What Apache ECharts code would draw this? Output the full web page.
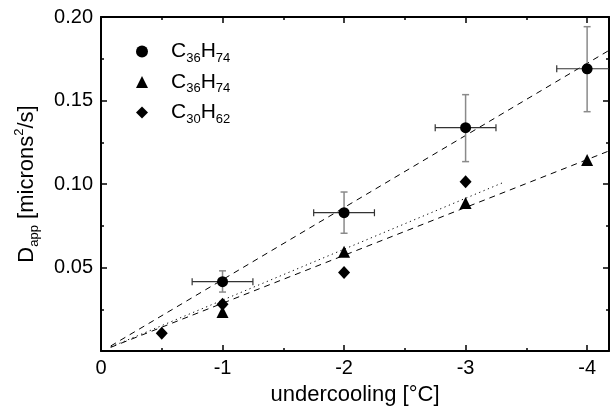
<!DOCTYPE html>
<html>
<head>
<meta charset="utf-8">
<script src="https://cdn.jsdelivr.net/npm/echarts@6/dist/echarts.min.js"></script>
<style>
  html, body { margin: 0; padding: 0; background: #fff; }
  #chart { width: 612px; height: 416px; }
</style>
</head>
<body>
<div id="chart"></div>
<script>
var FONT = "'Liberation Sans', Arial, sans-serif";

// C36H74, circles with error bars
var circleX = [-1, -2, -3, -4];
var circleY = [0.0415, 0.0828, 0.1337, 0.1690];
var circleYLow = [0.0353, 0.0705, 0.1134, 0.1433];
var circleYHigh = [0.0480, 0.0952, 0.1535, 0.1942];
var circleXLow = [-0.75, -1.75, -2.75, -3.75];
var circleXHigh = [-1.25, -2.25, -3.25, -4.25];

// C36H74, triangles
var triX = [-1, -2, -3, -4];
var triY = [0.0234, 0.0595, 0.0886, 0.1144];

// C30H62, diamonds
var diaX = [-0.5, -1, -2, -3];
var diaY = [0.0106, 0.0280, 0.0470, 0.1014];

// fitted lines (end points)
var fitCircleX = [-0.08, -4.18];
var fitCircleY = [0.0030, 0.1800];
var fitTriX = [-0.08, -4.18];
var fitTriY = [0.0022, 0.1198];
var fitDiaX = [-0.08, -3.30];
var fitDiaY = [0.0024, 0.1006];

var xTicks = [0, -1, -2, -3, -4];
var yTicks = [0.05, 0.10, 0.15, 0.20];

var legendNames = {
  'C36H74 a': '{c|C}{s|36}{b|H}{s|74}',
  'C36H74 b': '{c|C}{s|36}{b|H}{s|74}',
  'C30H62': '{c|C}{s|30}{b|H}{s|62}'
};

function zip(a, b) {
  var out = [];
  for (var i = 0; i < a.length; i++) out.push([a[i], b[i]]);
  return out;
}
function zip3(a, b, c) {
  var out = [];
  for (var i = 0; i < a.length; i++) out.push([a[i], b[i], c[i]]);
  return out;
}

var chart = echarts.init(document.getElementById('chart'), null, { renderer: 'canvas' });

var axisLine = { show: true, onZero: false, lineStyle: { color: '#000', width: 2 } };
var tick = { show: true, inside: true, length: 6, lineStyle: { color: '#000', width: 1.5 } };
var minor = { show: true, splitNumber: 2, length: 3, lineStyle: { color: '#000', width: 1.5 } };

var option = {
  animation: false,
  backgroundColor: '#fff',
  textStyle: { fontFamily: FONT },
  grid: { left: 101, right: 3, top: 17, bottom: 65 },
  legend: {
    orient: 'vertical',
    left: 136,
    top: 41,
    padding: 0,
    itemWidth: 12,
    itemHeight: 12,
    itemGap: 7,
    data: ['C36H74 a', 'C36H74 b', 'C30H62'],
    formatter: function (name) { return legendNames[name]; },
    textStyle: {
      fontFamily: FONT,
      rich: {
        c: { fontSize: 21, color: '#000', lineHeight: 26, fontFamily: FONT, padding: [0, 0, 0, 18] },
        b: { fontSize: 21, color: '#000', lineHeight: 26, fontFamily: FONT },
        s: { fontSize: 13, color: '#000', lineHeight: 13, verticalAlign: 'bottom', fontFamily: FONT }
      }
    },
    selectedMode: false
  },
  xAxis: [{
    type: 'value',
    min: -4.18,
    max: 0,
    inverse: true,
    position: 'bottom',
    axisLine: axisLine,
    axisTick: tick,
    minorTick: minor,
    splitLine: { show: false },
    axisLabel: {
      showMinLabel: false,
      fontSize: 20,
      color: '#000',
      margin: 7,
      fontFamily: FONT,
      formatter: function (v) { return xTicks.indexOf(v) >= 0 ? String(v) : ''; }
    },
    name: 'undercooling [°C]',
    nameLocation: 'middle',
    nameGap: 33,
    nameTextStyle: { fontSize: 22, color: '#000', fontFamily: FONT }
  }, {
    type: 'value',
    min: -4.18,
    max: 0,
    inverse: true,
    position: 'top',
    axisLine: axisLine,
    axisTick: tick,
    minorTick: minor,
    splitLine: { show: false },
    axisLabel: { show: false }
  }],
  yAxis: [{
    type: 'value',
    min: 0,
    max: 0.2,
    interval: 0.05,
    position: 'left',
    axisLine: axisLine,
    axisTick: tick,
    minorTick: minor,
    splitLine: { show: false },
    axisLabel: {
      showMinLabel: false,
      fontSize: 20,
      color: '#000',
      margin: 8,
      fontFamily: FONT,
      formatter: function (v) { return v.toFixed(2); }
    },
    name: '{n|D}{sub|app}{n| [microns}{sup|2}{n|/s]}',
    nameLocation: 'middle',
    nameGap: 60,
    nameTextStyle: {
      fontFamily: FONT,
      rich: {
        n: { fontSize: 22, color: '#000', lineHeight: 28, fontFamily: FONT },
        sub: { fontSize: 13, color: '#000', lineHeight: 14, verticalAlign: 'bottom', fontFamily: FONT },
        sup: { fontSize: 13, color: '#000', lineHeight: 14, verticalAlign: 'top', fontFamily: FONT }
      }
    }
  }, {
    type: 'value',
    min: 0,
    max: 0.2,
    interval: 0.05,
    position: 'right',
    axisLine: axisLine,
    axisTick: tick,
    minorTick: minor,
    splitLine: { show: false },
    axisLabel: { show: false }
  }],
  series: [
    {
      name: 'fitCircle',
      type: 'line',
      data: zip(fitCircleX, fitCircleY),
      symbol: 'none',
      silent: true,
      lineStyle: { color: '#000', width: 1, type: [6, 5] },
      z: 1
    },
    {
      name: 'fitTri',
      type: 'line',
      data: zip(fitTriX, fitTriY),
      symbol: 'none',
      silent: true,
      lineStyle: { color: '#000', width: 1, type: [6, 5] },
      z: 1
    },
    {
      name: 'fitDia',
      type: 'line',
      data: zip(fitDiaX, fitDiaY),
      symbol: 'none',
      silent: true,
      lineStyle: { color: '#000', width: 1, type: [1.2, 3.5] },
      z: 1
    },
    {
      // vertical error bars
      type: 'custom',
      clip: true,
      silent: true,
      data: zip3(circleX, circleYLow, circleYHigh),
      renderItem: function (params, api) {
        var p1 = api.coord([api.value(0), api.value(1)]);
        var p2 = api.coord([api.value(0), api.value(2)]);
        var w = 3.5;
        var st = { stroke: '#8a8a8a', lineWidth: 1.5 };
        return {
          type: 'group',
          children: [
            { type: 'line', shape: { x1: p1[0], y1: p1[1], x2: p2[0], y2: p2[1] }, style: st },
            { type: 'line', shape: { x1: p1[0] - w, y1: p1[1], x2: p1[0] + w, y2: p1[1] }, style: st },
            { type: 'line', shape: { x1: p2[0] - w, y1: p2[1], x2: p2[0] + w, y2: p2[1] }, style: st }
          ]
        };
      },
      z: 2
    },
    {
      // horizontal error bars
      type: 'custom',
      clip: true,
      silent: true,
      data: zip3(circleY, circleXLow, circleXHigh),
      renderItem: function (params, api) {
        var p1 = api.coord([api.value(1), api.value(0)]);
        var p2 = api.coord([api.value(2), api.value(0)]);
        var h = 3.5;
        var st = { stroke: '#333', lineWidth: 1.2 };
        return {
          type: 'group',
          children: [
            { type: 'line', shape: { x1: p1[0], y1: p1[1], x2: p2[0], y2: p2[1] }, style: st },
            { type: 'line', shape: { x1: p1[0], y1: p1[1] - h, x2: p1[0], y2: p1[1] + h }, style: st },
            { type: 'line', shape: { x1: p2[0], y1: p2[1] - h, x2: p2[0], y2: p2[1] + h }, style: st }
          ]
        };
      },
      z: 2
    },
    {
      name: 'C36H74 a',
      type: 'scatter',
      symbol: 'circle',
      symbolSize: 11,
      itemStyle: { color: '#000', opacity: 1 },
      data: zip(circleX, circleY),
      z: 5
    },
    {
      name: 'C36H74 b',
      type: 'scatter',
      symbol: 'triangle',
      symbolSize: 12,
      itemStyle: { color: '#000', opacity: 1 },
      data: zip(triX, triY),
      z: 5
    },
    {
      name: 'C30H62',
      type: 'scatter',
      symbol: 'diamond',
      symbolSize: [12, 13],
      itemStyle: { color: '#000', opacity: 1 },
      data: zip(diaX, diaY),
      z: 5
    }
  ]
};

chart.setOption(option);
</script>
</body>
</html>
